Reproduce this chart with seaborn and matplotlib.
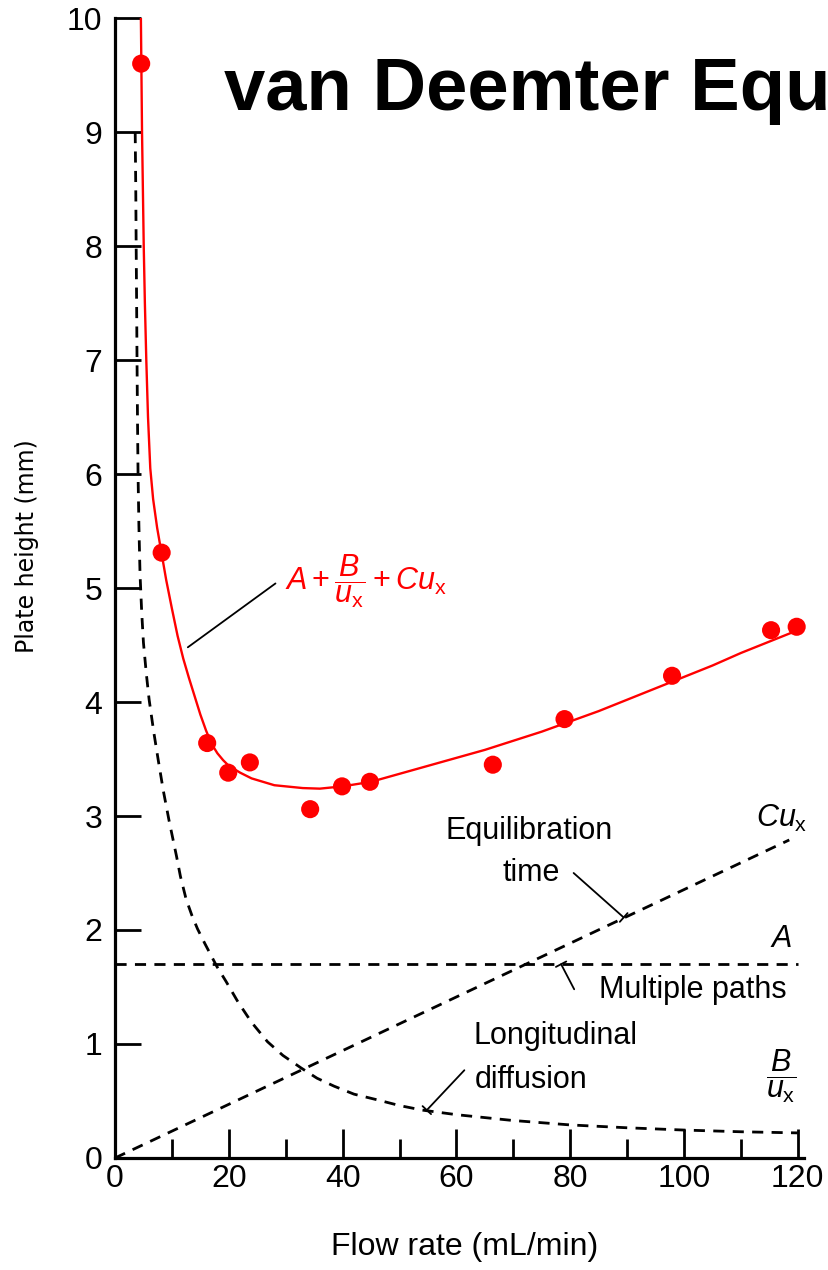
import matplotlib
matplotlib.use("Agg")
import matplotlib.pyplot as plt
import seaborn as sns

# ---------------------------------------------------------------
# Data (flow rate in mL/min, plate height in mm)
# ---------------------------------------------------------------
flow_pts = [4.6, 8.2, 16.2, 19.9, 23.7, 34.3, 39.9, 44.8, 66.4, 79.0, 97.9, 115.3, 119.8]
height_pts = [9.60, 5.31, 3.64, 3.38, 3.47, 3.06, 3.26, 3.30, 3.45, 3.85, 4.23, 4.63, 4.66]

# total curve  A + B/u + Cu
total_x = [4.55, 4.65, 4.75, 4.9, 5.05, 5.25, 5.5, 5.8, 6.2, 6.7, 7.4, 8.2, 9.0, 10.0,
           11.0, 12.0, 13.0, 14.0, 15.0, 16.0, 17.0, 18.0, 19.0, 20.0, 21.0, 22.0,
           24.0, 26.0, 28.0, 30.0, 33.0, 36.0, 40.0, 45.0, 50.0, 55.0, 60.0, 65.0,
           70.0, 75.0, 80.0, 85.0, 90.0, 95.0, 100.0, 105.0, 110.0, 115.0, 120.0]
total_y = [10.0, 9.5, 9.0, 8.5, 8.0, 7.5, 7.0, 6.5, 6.05, 5.78, 5.53, 5.30, 5.07, 4.82,
           4.58, 4.38, 4.21, 4.05, 3.89, 3.75, 3.63, 3.55, 3.49, 3.44, 3.41, 3.38,
           3.33, 3.30, 3.27, 3.26, 3.245, 3.24, 3.26, 3.30, 3.37, 3.44, 3.51, 3.58,
           3.66, 3.74, 3.83, 3.92, 4.02, 4.12, 4.22, 4.32, 4.43, 4.53, 4.63]

# longitudinal diffusion  B/u
diff_x = [3.55, 3.65, 3.72, 3.8, 3.87, 3.95, 4.05, 4.2, 4.4, 4.7, 5.0, 5.5, 6.0, 6.8,
          7.6, 8.5, 9.5, 10.8, 11.5, 12.5, 13.5, 14.5, 15.8, 17.9, 19.5, 21.6, 24.0,
          26.8, 29.5, 32.7, 35.5, 38.5, 42.0, 46.1, 50.0, 54.0, 60.0, 69.7, 80.0,
          90.0, 100.0, 110.0, 120.0]
diff_y = [9.0, 8.5, 8.0, 7.5, 7.0, 6.5, 6.0, 5.55, 5.12, 4.78, 4.52, 4.25, 4.02, 3.74,
          3.49, 3.22, 2.96, 2.65, 2.47, 2.27, 2.13, 2.01, 1.88, 1.68, 1.55, 1.37, 1.19,
          1.02, 0.90, 0.79, 0.70, 0.63, 0.56, 0.51, 0.46, 0.42, 0.38, 0.33, 0.29,
          0.265, 0.245, 0.23, 0.22]

# multiple paths  A
paths_x = [0, 120]
paths_y = [1.70, 1.70]

# equilibration time  Cu
equil_x = [0, 118.5]
equil_y = [0, 2.79]

x_major = [0, 20, 40, 60, 80, 100, 120]
x_minor = [10, 30, 50, 70, 90, 110]
y_major = [0, 1, 2, 3, 4, 5, 6, 7, 8, 9, 10]

RED = "#ff0000"
DASH = (0, (4, 3))

sns.set_theme(style="white")
plt.rcParams["font.family"] = ["Liberation Sans", "DejaVu Sans"]
plt.rcParams["text.color"] = "black"
plt.rcParams["axes.labelcolor"] = "black"
plt.rcParams["mathtext.fontset"] = "custom"
plt.rcParams["mathtext.rm"] = "Liberation Sans"
plt.rcParams["mathtext.it"] = "Liberation Sans:italic"
plt.rcParams["mathtext.bf"] = "Liberation Sans:bold"

fig = plt.figure(figsize=(8.29, 12.70), dpi=100, facecolor="white")
ax = fig.add_axes([115 / 829, 0.0882, 688.5 / 829, 0.8976])
ax.set_facecolor("white")

# component curves
sns.lineplot(x=diff_x, y=diff_y, ax=ax, color="black", lw=2.0, linestyle=DASH,
             sort=False, errorbar=None)
sns.lineplot(x=paths_x, y=paths_y, ax=ax, color="black", lw=2.0, linestyle=DASH,
             sort=False, errorbar=None)
sns.lineplot(x=equil_x, y=equil_y, ax=ax, color="black", lw=2.0, linestyle=DASH,
             sort=False, errorbar=None)

# total curve and measurements
sns.lineplot(x=total_x, y=total_y, ax=ax, color=RED, lw=1.7, sort=False, errorbar=None)
sns.scatterplot(x=flow_pts, y=height_pts, ax=ax, color=RED, s=170, edgecolor="none",
                zorder=5, clip_on=False)

ax.set_xlim(0, 121)
ax.set_ylim(0, 10)

ax.set_xticks(x_major)
ax.set_xticks(x_minor, minor=True)
ax.set_yticks(y_major)
ax.set_yticklabels([str(v) for v in y_major])

for side in ["top", "right"]:
    ax.spines[side].set_visible(False)
for side in ["left", "bottom"]:
    ax.spines[side].set_color("black")
    ax.spines[side].set_linewidth(2.3)

ax.tick_params(axis="x", which="major", direction="in", length=21, width=2,
               labelsize=23, pad=4, colors="black", bottom=True)
ax.tick_params(axis="x", which="minor", direction="in", length=14, width=2,
               colors="black", bottom=True)
ax.tick_params(axis="y", which="major", direction="in", length=19, width=2,
               labelsize=23, pad=9, colors="black", left=True)
ax.grid(False)

ax.set_xlabel("")
ax.set_ylabel("")
fig.text(465 / 829, 1 - 1247 / 1270, "Flow rate (mL/min)", fontsize=23,
         ha="center", va="center", color="black")
fig.text(27 / 829, 1 - 546 / 1270, "Plate height (mm)", rotation=90, fontsize=17,
         family="DejaVu Sans", ha="center", va="center", color="black")

# title as it appears on the slide (runs to the right edge)
fig.text(224 / 829, 1 - 110 / 1270, "van Deemter Equ", fontsize=53.5,
         fontweight="bold", ha="left", va="baseline", color="black")

# labels
ax.text(44, 5.06, r"$A + \dfrac{B}{u_{\mathrm{x}}} + Cu_{\mathrm{x}}$", color=RED,
        fontsize=22, ha="center", va="center")
ax.plot([12.8, 28.2], [4.48, 5.04], color="black", lw=1.3)

ax.text(72.8, 2.87, "Equilibration", fontsize=22, ha="center", va="center")
ax.text(73.1, 2.50, "time", fontsize=22, ha="center", va="center")
ax.text(117.2, 2.98, r"$Cu_{\mathrm{x}}$", fontsize=22, ha="center", va="center",
        clip_on=False)
ax.text(117.0, 1.92, r"$A$", fontsize=22, ha="center", va="center")
ax.text(101.5, 1.47, "Multiple paths", fontsize=22, ha="center", va="center",
        clip_on=False)
ax.text(63.0, 1.07, "Longitudinal", fontsize=22, ha="left", va="center")
ax.text(63.2, 0.68, "diffusion", fontsize=22, ha="left", va="center")
ax.text(117.1, 0.72, r"$\dfrac{B}{u_{\mathrm{x}}}$", fontsize=22, ha="center",
        va="center", clip_on=False)

pointer = dict(arrowstyle="-[, widthB=0.35, lengthB=0", lw=1.3, color="black",
               shrinkA=0, shrinkB=0)
ax.annotate("", xy=(89.4, 2.11), xytext=(80.6, 2.50), arrowprops=pointer)
ax.annotate("", xy=(78.4, 1.70), xytext=(80.7, 1.48), arrowprops=pointer)
ax.annotate("", xy=(54.8, 0.42), xytext=(61.4, 0.77), arrowprops=pointer)

fig.savefig("out.png", dpi=100, facecolor="white")
